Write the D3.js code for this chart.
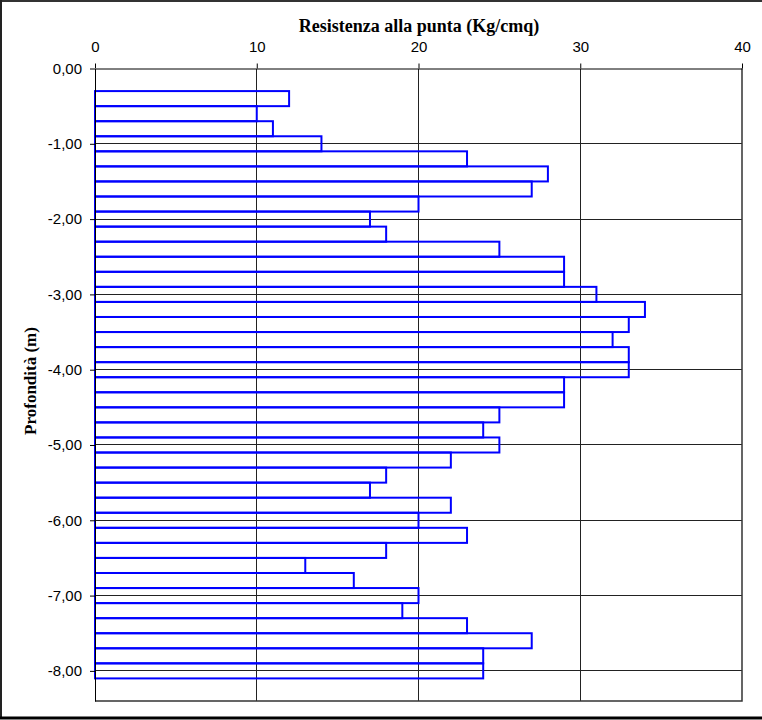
<!DOCTYPE html>
<html>
<head>
<meta charset="utf-8">
<script src="https://cdn.jsdelivr.net/npm/d3@7"></script>
<style>
  html, body { margin: 0; padding: 0; background: #fff; }
  svg { display: block; }
</style>
</head>
<body>
<svg id="chart" width="762" height="720"></svg>
<script>
// Data: depth intervals (m, top and bottom) and cone resistance (Kg/cmq)
const depthTop = [0.3,0.5,0.7,0.9,1.1,1.3,1.5,1.7,1.9,2.1,2.3,2.5,2.7,2.9,3.1,3.3,3.5,3.7,3.9,4.1,
                  4.3,4.5,4.7,4.9,5.1,5.3,5.5,5.7,5.9,6.1,6.3,6.5,6.7,6.9,7.1,7.3,7.5,7.7,7.9];
const depthBottom = [0.5,0.7,0.9,1.1,1.3,1.5,1.7,1.9,2.1,2.3,2.5,2.7,2.9,3.1,3.3,3.5,3.7,3.9,4.1,4.3,
                     4.5,4.7,4.9,5.1,5.3,5.5,5.7,5.9,6.1,6.3,6.5,6.7,6.9,7.1,7.3,7.5,7.7,7.9,8.1];
const resistance = [12,10,11,14,23,28,27,20,17,18,25,29,29,31,34,33,32,33,33,29,
                    29,25,24,25,22,18,17,22,20,23,18,13,16,20,19,23,27,24,24];
const xTicks = [0,10,20,30,40];
const yTicks = [0,-1,-2,-3,-4,-5,-6,-7,-8];
const xTitle = "Resistenza alla punta (Kg/cmq)";
const yTitle = "Profondità (m)";

const svg = d3.select("#chart");
const pL = 95, pR = 742, pT = 68.5, pB = 701;
const x = d3.scaleLinear().domain([0, 40]).range([pL, pR]);
const y = d3.scaleLinear().domain([0, -8.4]).range([pT, pB]);

// outer border
svg.append("line").attr("x1", 0).attr("x2", 762).attr("y1", 1).attr("y2", 1)
  .attr("stroke", "#333").attr("stroke-width", 2);
svg.append("line").attr("x1", 1).attr("x2", 1).attr("y1", 0).attr("y2", 719)
  .attr("stroke", "#222").attr("stroke-width", 2);
svg.append("line").attr("x1", 0).attr("x2", 762).attr("y1", 718).attr("y2", 718)
  .attr("stroke", "#000").attr("stroke-width", 3);

// gridlines
const grid = svg.append("g").attr("stroke", "#222").attr("stroke-width", 1).attr("shape-rendering", "crispEdges");
grid.selectAll("line.v").data(xTicks.filter(d => d > 0 && d < 40)).join("line")
  .attr("x1", d => x(d)).attr("x2", d => x(d)).attr("y1", pT).attr("y2", pB);
grid.selectAll("line.h").data(yTicks.filter(d => d < 0)).join("line")
  .attr("x1", pL).attr("x2", pR).attr("y1", d => y(d)).attr("y2", d => y(d));

// frame right & bottom
svg.append("path")
  .attr("d", `M${pR},${pT}V${pB}H${pL}`)
  .attr("fill", "none").attr("stroke", "#333").attr("stroke-width", 1.5);

// bars
const bars = depthTop.map((t, i) => ({ t, b: depthBottom[i], v: resistance[i] }));
svg.append("g").selectAll("rect").data(bars).join("rect")
  .attr("x", x(0))
  .attr("y", d => y(-d.t))
  .attr("width", d => x(d.v) - x(0))
  .attr("height", d => y(-d.b) - y(-d.t))
  .attr("fill", "none")
  .attr("stroke", "#0000ff")
  .attr("stroke-width", 2);

// axes
const fmt = d => d3.format(".2f")(d).replace(".", ",").replace("−", "-");
const yAxis = svg.append("g").attr("transform", `translate(${pL},0)`)
  .call(d3.axisLeft(y).tickValues(yTicks).tickSize(5).tickPadding(8).tickSizeOuter(0).tickFormat(fmt));
const xAxis = svg.append("g").attr("transform", `translate(0,${pT})`)
  .call(d3.axisTop(x).tickValues(xTicks).tickSize(5).tickPadding(12).tickSizeOuter(0).tickFormat(d3.format("d")));
[xAxis, yAxis].forEach(a => {
  a.selectAll("text").attr("font-family", "'Liberation Sans', Arial, sans-serif").attr("font-size", 15).attr("fill", "#000");
  a.selectAll("line").attr("stroke", "#000");
  a.select(".domain").attr("stroke", "#000");
});

// titles
svg.append("text").attr("x", 419).attr("y", 32).attr("text-anchor", "middle")
  .attr("font-family", "'Liberation Serif', 'Times New Roman', serif").attr("font-weight", "bold")
  .attr("font-size", 18).text(xTitle);
svg.append("text").attr("transform", "translate(36,381) rotate(-90)").attr("text-anchor", "middle")
  .attr("font-family", "'Liberation Serif', 'Times New Roman', serif").attr("font-weight", "bold")
  .attr("font-size", 17).text(yTitle);
</script>
</body>
</html>
